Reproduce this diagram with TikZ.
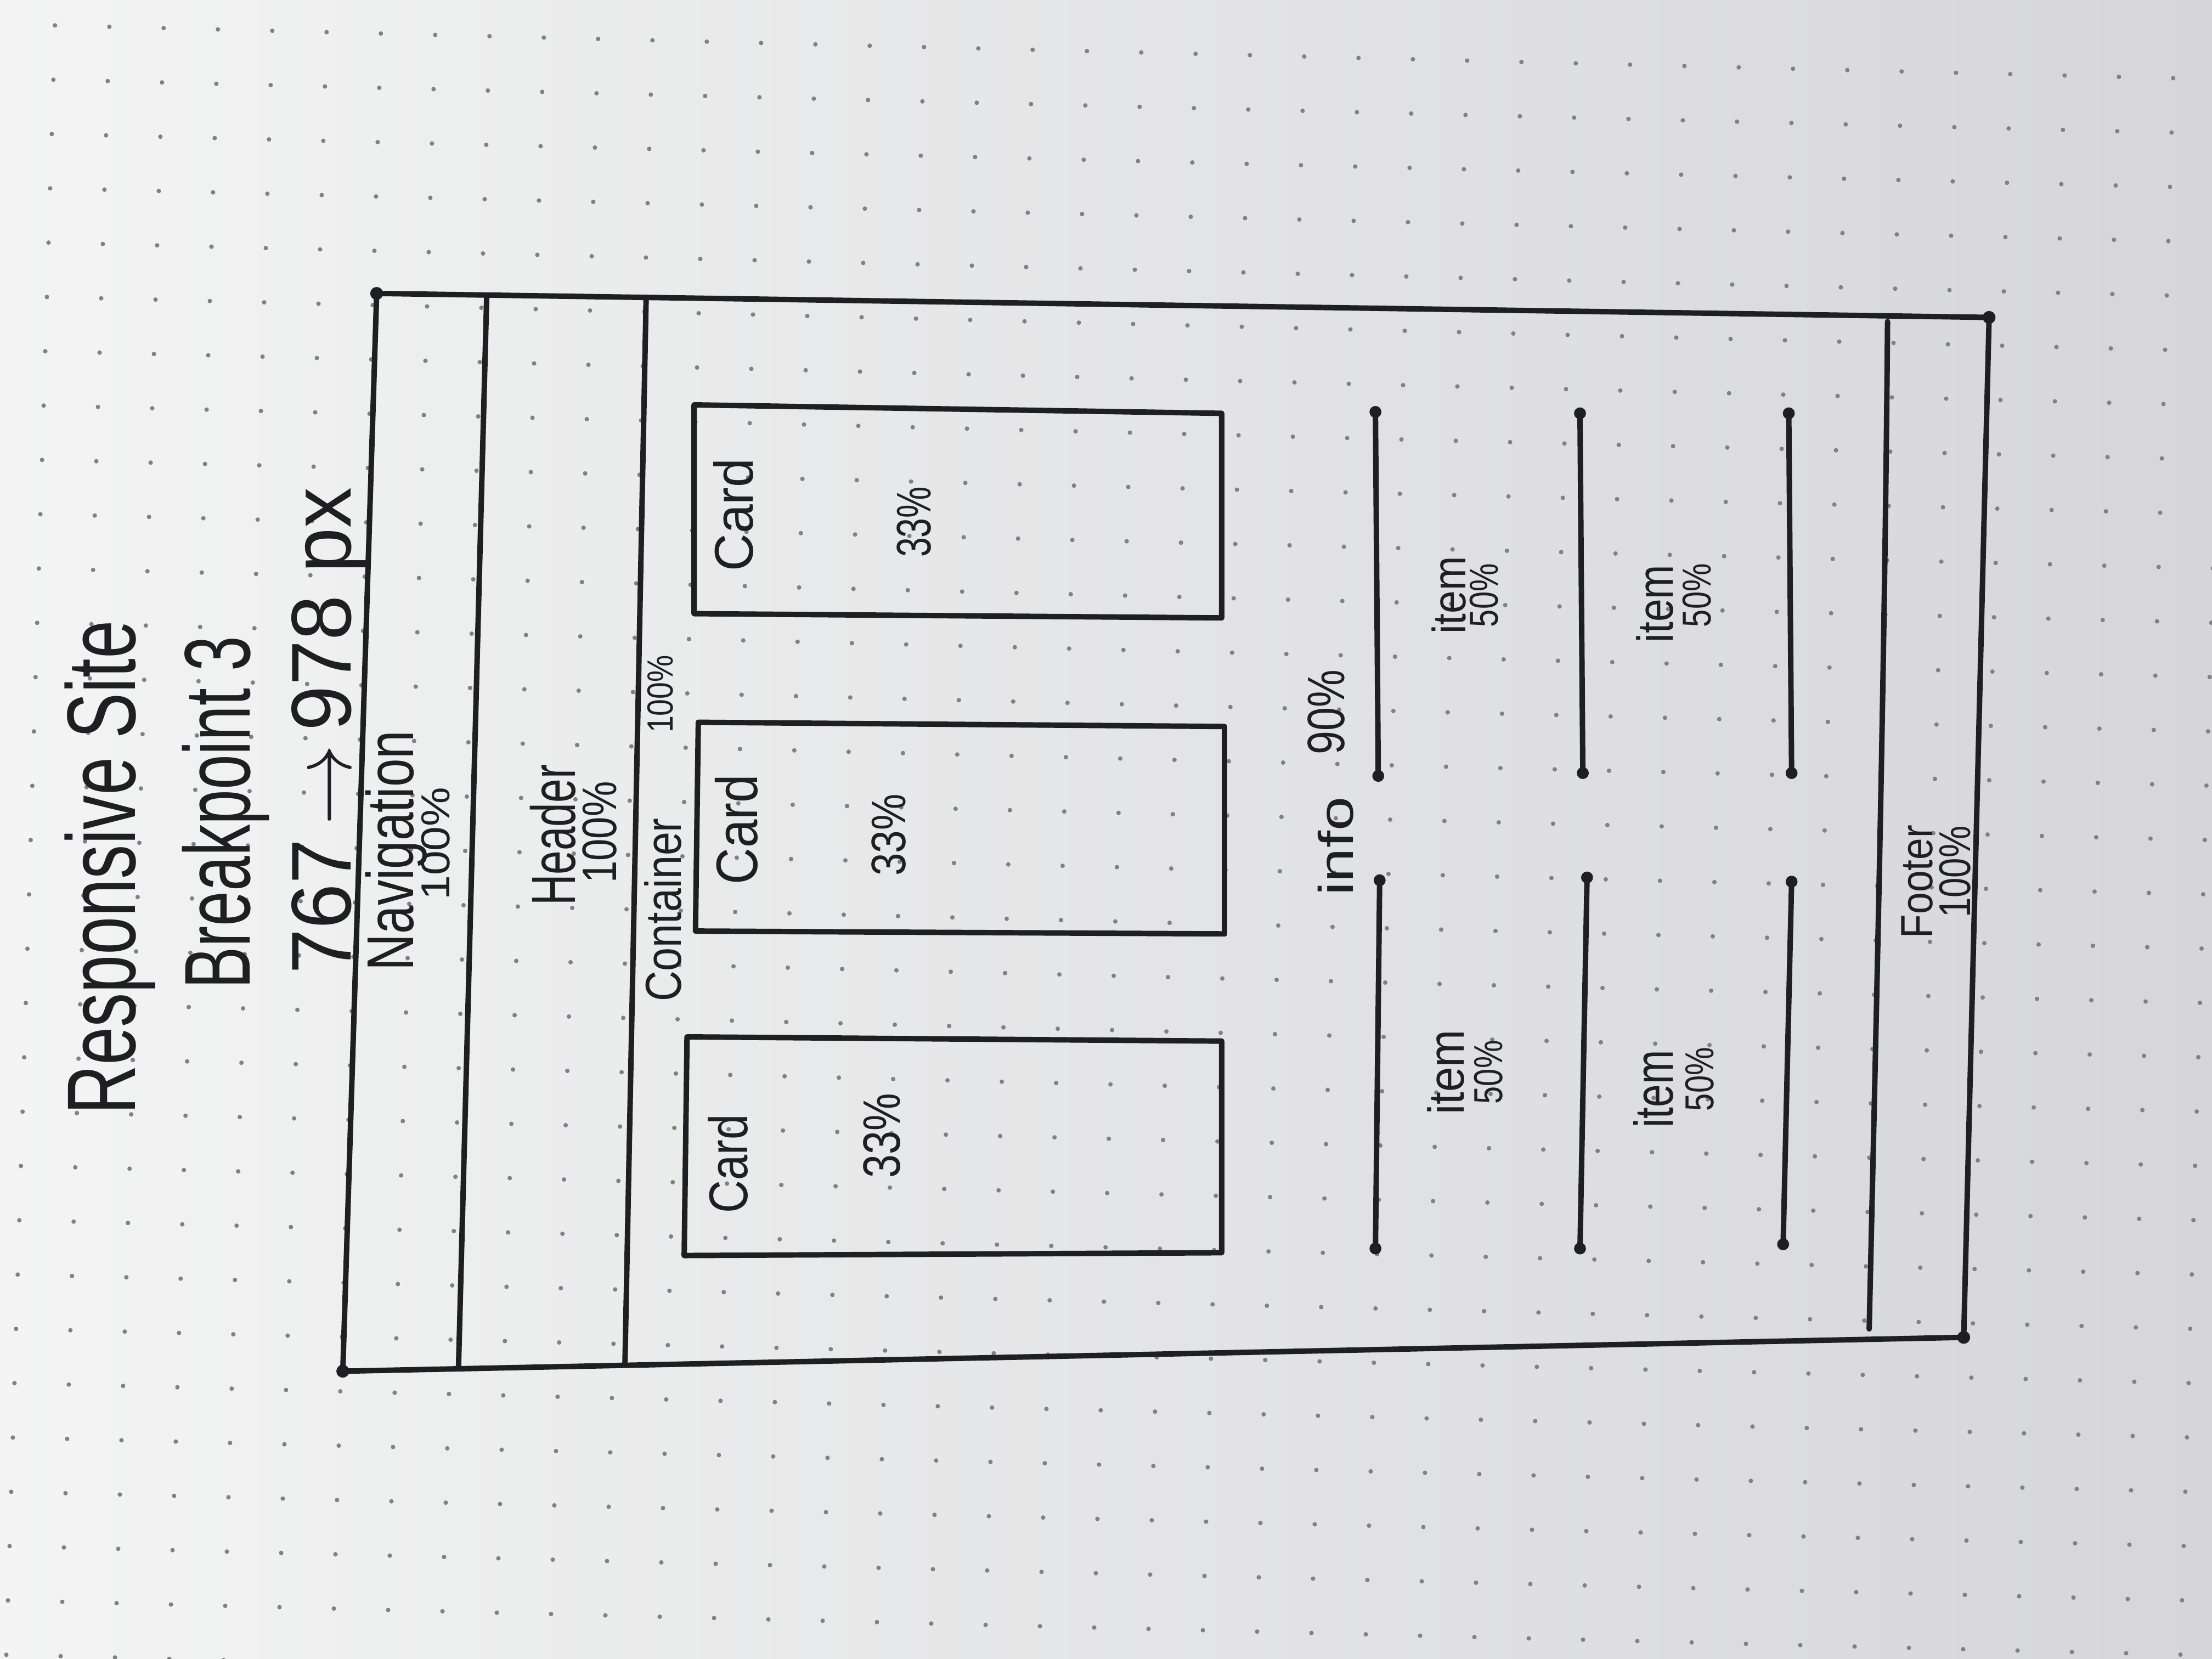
\documentclass[tikz,border=0pt]{standalone}
\usepackage{fontspec}
\setmainfont{Liberation Sans}
\usepackage{graphicx}
\definecolor{ink}{HTML}{1E1E23}
\definecolor{paperL}{HTML}{F3F4F3}
\definecolor{paperM}{HTML}{E2E2E4}
\definecolor{paperR}{HTML}{D6D6DA}
\definecolor{dotc}{HTML}{808085}
\newcommand{\hw}[3]{\resizebox{#1cm}{#2cm}{#3}}
\begin{document}
\begin{tikzpicture}[x=0.01cm,y=-0.01cm,
  pen/.style={draw=ink,line width=1.1pt,line cap=round,line join=round},
  hand/.style={rotate=90,inner sep=0pt,text=ink},
  penend/.style={fill=ink}]
\useasboundingbox (0,0) rectangle (1568,1176);
\shade[left color=paperL,middle color=paperM,right color=paperR] (0,0) rectangle (1568,1176);
% dot grid
\foreach \i in {0,...,41}{
  \foreach \j in {0,...,31}{
    \fill[dotc] ({39+38.5*\i-1.15*\j},{18+38.5*\j+0.96*\i}) circle[radius=0.45pt];
  }
}
% title texts
\node[hand] (title) at (78,615) {\hw{3.5}{0.5}{Responsive  Site}};
\node[hand] (bp) at (160,576) {\hw{2.5}{0.48}{Breakpoint  3}};
\node[hand] (range) at (234,518) {\hw{3.45}{0.42}{767$\,\rightarrow\,$978 px}};
% outer frame
\coordinate (TL) at (267,208);
\coordinate (TR) at (1410,225);
\coordinate (BR) at (1392,948);
\coordinate (BL) at (243,972);
\draw[pen] (TL) -- (TR) -- (BR) -- (BL) -- cycle;
\foreach \c in {TL,TR,BR,BL} \fill[penend] (\c) circle[radius=1.3pt];
% section separators
\draw[pen] (345,210) -- (325,970);
\draw[pen] (458,212) -- (443,967);
\draw[pen] (1338,228) .. controls (1336,480) and (1330,720) .. (1325,942);
% section labels
\node[hand] (nav) at (281,603) {\hw{1.7}{0.34}{Navigation}};
\node[hand] (nav100) at (309,598) {\hw{0.8}{0.2}{100\%}};
\node[hand] (hdr) at (392,592) {\hw{1.0}{0.32}{Header}};
\node[hand] (hdr100) at (425,590) {\hw{0.72}{0.24}{100\%}};
\node[hand] (cont) at (470,645) {\hw{1.3}{0.26}{Container}};
\node[hand] (cont100) at (468,492) {\hw{0.55}{0.18}{100\%}};
% cards
\draw[pen] (492,287) -- (866,293) -- (866,438) -- (492,435) -- cycle;
\draw[pen] (495,512) -- (868,515) -- (868,662) -- (493,660) -- cycle;
\draw[pen] (487,735) -- (866,738) -- (866,888) -- (485,890) -- cycle;
\node[hand] (c1) at (520,365) {\hw{0.8}{0.28}{Card}};
\node[hand] (c1p) at (648,370) {\hw{0.5}{0.24}{33\%}};
\node[hand] (c2) at (522,588) {\hw{0.78}{0.3}{Card}};
\node[hand] (c2p) at (630,592) {\hw{0.58}{0.24}{33\%}};
\node[hand] (c3) at (516,825) {\hw{0.7}{0.28}{Card}};
\node[hand] (c3p) at (625,805) {\hw{0.6}{0.26}{33\%}};
% info
\node[hand] (info) at (947,600) {\hw{0.7}{0.25}{info}};
\node[hand] (info90) at (940,505) {\hw{0.6}{0.26}{90\%}};
% item lines
\foreach \a/\b/\c/\d in {975/292/977/550, 978/624/975/885, 1120/293/1122/548, 1125/622/1120/885, 1268/293/1270/548, 1270/625/1264/882}{
  \draw[pen] (\a,\b) -- (\c,\d);
  \fill[penend] (\a,\b) circle[radius=1.2pt];
  \fill[penend] (\c,\d) circle[radius=1.2pt];
}
\node[hand] (i1) at (1027,422) {\hw{0.55}{0.24}{item}};
\node[hand] (i1p) at (1052,422) {\hw{0.45}{0.2}{50\%}};
\node[hand] (i2) at (1025,760) {\hw{0.6}{0.26}{item}};
\node[hand] (i2p) at (1055,760) {\hw{0.45}{0.2}{50\%}};
\node[hand] (i3) at (1173,428) {\hw{0.55}{0.26}{item}};
\node[hand] (i3p) at (1203,422) {\hw{0.45}{0.2}{50\%}};
\node[hand] (i4) at (1172,772) {\hw{0.55}{0.28}{item}};
\node[hand] (i4p) at (1205,765) {\hw{0.45}{0.2}{50\%}};
% footer
\node[hand] (ftr) at (1359,625) {\hw{0.8}{0.22}{Footer}};
\node[hand] (ftr100) at (1386,618) {\hw{0.65}{0.22}{100\%}};
\end{tikzpicture}
\end{document}
